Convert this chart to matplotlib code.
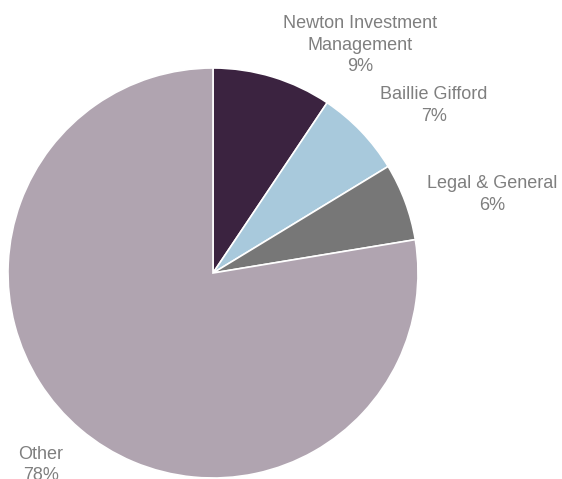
import matplotlib
matplotlib.use("Agg")
import matplotlib.pyplot as plt

categories = ["Newton Investment\nManagement", "Baillie Gifford", "Legal & General", "Other"]
values = [9.4, 6.9, 6.1, 77.6]
colors = ["#3b2340", "#a8c9dc", "#777777", "#b0a4b0"]

plt.rcParams['font.family'] = ['Liberation Sans', 'DejaVu Sans']

W, H = 562, 479
fig = plt.figure(figsize=(W / 100, H / 100), dpi=100)
ax = fig.add_axes([0, 0, 1, 1])
ax.set_xlim(0, W)
ax.set_ylim(0, H)
ax.axis('off')

cx, cy, r = 213, H - 273, 205
ax.pie(values, colors=colors, startangle=90, counterclock=False,
       center=(cx, cy), radius=r, frame=True,
       wedgeprops=dict(edgecolor='white', linewidth=1.2))
ax.set_xlim(0, W)
ax.set_ylim(0, H)
ax.set_aspect('equal')
ax.axis('off')

# label positions (pixel coords, center x, first baseline y from top)
label_pos = [(360, 28), (434, 99), (492, 188), (41, 459)]
tc = "#7f7f7f"
lh = 21.5
for cat, v, (lx, ly) in zip(categories, values, label_pos):
    lines = cat.split("\n") + [f"{round(v):.0f}%"]
    for i, line in enumerate(lines):
        ax.text(lx, H - (ly + i * lh), line, ha='center', va='baseline',
                fontsize=13, color=tc)

fig.savefig("out.png", dpi=100)
